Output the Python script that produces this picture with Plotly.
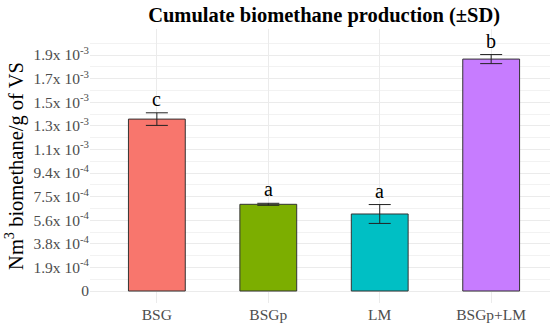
import plotly.graph_objects as go

categories = ["BSG", "BSGp", "LM", "BSGp+LM"]
means = [1.366e-3, 6.89e-4, 6.12e-4, 1.843e-3]
sds = [5.0e-5, 8e-6, 7.5e-5, 3.6e-5]
letters = ["c", "a", "a", "b"]
colors = ["#F8766D", "#7CAE00", "#00BFC4", "#C77CFF"]

tick_vals = [i * 1.875e-4 for i in range(11)]
tick_text = ["0", "1.9x 10<sup>-4</sup>", "3.8x 10<sup>-4</sup>", "5.6x 10<sup>-4</sup>",
             "7.5x 10<sup>-4</sup>", "9.4x 10<sup>-4</sup>", "1.1x 10<sup>-3</sup>",
             "1.3x 10<sup>-3</sup>", "1.5x 10<sup>-3</sup>", "1.7x 10<sup>-3</sup>",
             "1.9x 10<sup>-3</sup>"]
minor_vals = [(i + 0.5) * 1.875e-4 for i in range(-1, 11)]

serif = "Liberation Serif"

fig = go.Figure()
fig.add_trace(go.Bar(
    x=categories, y=means, width=0.51,
    marker=dict(color=colors, line=dict(color="#333333", width=1)),
    error_y=dict(type="data", array=sds, visible=True, color="#222222",
                 thickness=1, width=11),
    showlegend=False,
))

for c, m, s, l in zip(categories, means, sds, letters):
    fig.add_annotation(x=c, y=m + s, text=l, showarrow=False, yanchor="bottom",
                       yshift=1, font=dict(family=serif, size=20, color="black"))

fig.update_layout(
    width=550, height=328,
    margin=dict(l=90, r=0, t=29, b=25, autoexpand=False),
    paper_bgcolor="white", plot_bgcolor="white",
    title=dict(text="<b>Cumulate biomethane production (±SD)</b>",
               xref="paper", x=0.509, xanchor="center", y=0.955, yanchor="middle",
               font=dict(family=serif, size=20.5, color="black")),
    font=dict(family=serif),
)
fig.update_xaxes(
    range=[-0.6, 3.528], showgrid=True, gridcolor="#EBEBEB", gridwidth=1,
    zeroline=False, showline=False, ticks="", automargin=False,
    tickfont=dict(family=serif, size=15.5, color="#4D4D4D"),
)
fig.update_yaxes(
    range=[-0.953e-4, 2.082e-3], tickvals=tick_vals, ticktext=tick_text,
    showgrid=True, gridcolor="#EBEBEB", gridwidth=1, zeroline=False,
    showline=False, ticks="", automargin=False,
    tickfont=dict(family=serif, size=15.5, color="#4D4D4D"),
    minor=dict(tickvals=minor_vals, showgrid=True, gridcolor="#F2F2F2", gridwidth=1),
    title=dict(text="Nm<sup>3</sup> biomethane/g of VS",
               font=dict(family=serif, size=20.5, color="black"), standoff=4),
)

fig.write_html("out.html", config={"displayModeBar": False},
               post_script="document.body.style.margin='0';document.body.style.padding='0';")
